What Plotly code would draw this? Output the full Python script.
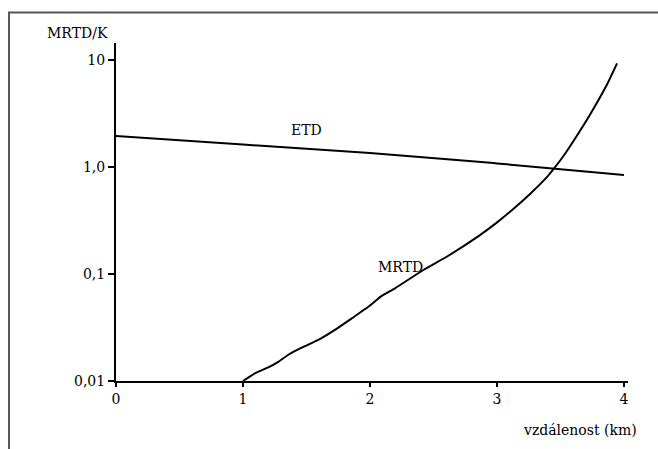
import plotly.graph_objects as go

# distance in km, values in K
etd_x = [0.0, 1.0, 2.0, 3.0, 4.0]
etd_y = [1.95, 1.62, 1.35, 1.08, 0.84]

mrtd_x = [1.0, 1.094, 1.199, 1.278, 1.357, 1.462, 1.593, 1.724, 1.856, 1.987,
          2.092, 2.197, 2.420, 2.604, 2.866, 2.998, 3.128, 3.260, 3.391, 3.443,
          3.522, 3.601, 3.732, 3.864, 3.945]
mrtd_y = [0.0100, 0.0118, 0.0134, 0.0151, 0.0176, 0.0205, 0.0242, 0.0300, 0.0385,
          0.0494, 0.0624, 0.0735, 0.109, 0.145, 0.231, 0.302, 0.405, 0.560, 0.800,
          0.950, 1.26, 1.74, 3.08, 5.83, 9.3]

y_ticks = [0.01, 0.1, 1.0, 10.0]
y_tick_text = ["0,01", "0,1", "1,0", "10"]
x_ticks = [0, 1, 2, 3, 4]
x_tick_text = ["0", "1", "2", "3", "4"]

text_font = dict(family="DejaVu Serif", size=14, color="black")

fig = go.Figure()
fig.add_trace(go.Scatter(x=etd_x, y=etd_y, mode="lines",
                         line=dict(color="black", width=2, shape="spline"),
                         showlegend=False))
fig.add_trace(go.Scatter(x=mrtd_x, y=mrtd_y, mode="lines",
                         line=dict(color="black", width=2, shape="spline",
                                   smoothing=0.5),
                         showlegend=False))

# curve labels
fig.add_annotation(x=1.50, y=0.346, text="ETD", showarrow=False, font=text_font,
                   xanchor="center", yanchor="middle")
fig.add_annotation(x=2.24, y=-0.935, text="MRTD", showarrow=False, font=text_font,
                   xanchor="center", yanchor="middle")

# axis titles
fig.add_annotation(xref="paper", yref="paper", x=-0.076, y=1.0296, text="MRTD/K",
                   showarrow=False, font=text_font, xanchor="center",
                   yanchor="middle")
fig.add_annotation(xref="paper", yref="paper", x=0.906, y=-0.145,
                   text="vzdálenost (km)", showarrow=False, font=text_font,
                   xanchor="center", yanchor="middle")

# outer frame: left and top edges as one open path
fig.add_shape(type="path", xref="paper", yref="paper",
              path="M -0.209,-0.25 L -0.209,1.09 L 1.1,1.09",
              line=dict(color="#555555", width=2))

fig.update_xaxes(range=[0, 512 / 127], showgrid=False, zeroline=False,
                 showline=True, linecolor="black", linewidth=2,
                 ticks="outside", ticklen=4, tickwidth=2, tickcolor="black",
                 tickvals=x_ticks, ticktext=x_tick_text, tickfont=text_font)
fig.update_yaxes(type="log", range=[-2, -2 + 338 / 107], showgrid=False,
                 zeroline=False, showline=True, linecolor="black", linewidth=2,
                 ticks="outside", ticklen=6, tickwidth=2, tickcolor="black",
                 tickvals=y_ticks, ticktext=y_tick_text, tickfont=text_font)

fig.update_layout(width=658, height=449, margin=dict(l=116, r=30, t=43, b=68),
                  plot_bgcolor="white", paper_bgcolor="white")

fig.write_html("out.html", config={"displayModeBar": False})
